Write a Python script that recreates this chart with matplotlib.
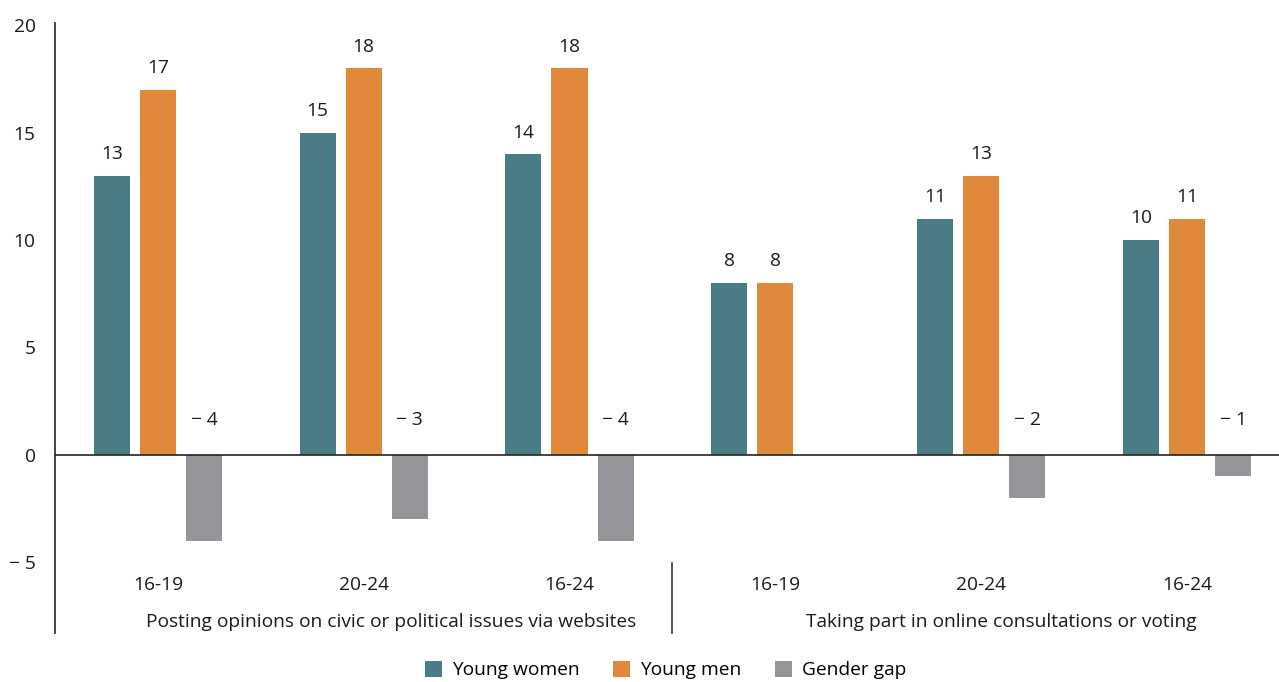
import matplotlib
matplotlib.use("Agg")
import matplotlib.pyplot as plt
import numpy as np
from matplotlib.patches import Patch

categories = ["16-19", "20-24", "16-24", "16-19", "20-24", "16-24"]
groups = ["Posting opinions on civic or political issues via websites",
          "Taking part in online consultations or voting"]
young_women = [13, 15, 14, 8, 11, 10]
young_men = [17, 18, 18, 8, 13, 11]
gender_gap = [-4, -3, -4, 0, -2, -1]
series_names = ["Young women", "Young men", "Gender gap"]
yticks = [-5, 0, 5, 10, 15, 20]
ytick_labels = ["\u2212 5", "0", "5", "10", "15", "20"]

colors = ["#4B7C86", "#E1893A", "#949599"]
plt.rcParams['font.family'] = ['Open Sans', 'DejaVu Sans']
FS = 13.8

W, H = 1279, 682
fig = plt.figure(figsize=(W / 100, H / 100), dpi=100)
x0, x1 = 55, 55 + 6 * 205.8
ytop, ybot = 23, 633
ax = fig.add_axes([x0 / W, (H - ybot) / H, (x1 - x0) / W, (ybot - ytop) / H])

x = np.arange(len(categories))
bw = 0.175
off = 0.224
series = [young_women, young_men, gender_gap]
for i, (vals, c) in enumerate(zip(series, colors)):
    pos = x + (i - 1) * off
    ax.bar(pos, vals, width=bw, color=c, zorder=2)
    for p, v in zip(pos, vals):
        if v == 0 and i == 2:
            continue
        if v > 0:
            ax.annotate(str(v), (p, v), xytext=(0, 15.5), textcoords="offset points",
                        ha="center", va="center", fontsize=FS, color="#1a1a1a")
        else:
            ax.annotate("\u2212 " + str(abs(v)), (p, 0), xytext=(0, 25), textcoords="offset points",
                        ha="center", va="center", fontsize=FS, color="#1a1a1a")

ax.set_xlim(-0.5, 5.5)
ax.set_ylim(-8.29, 20.1)
ax.axhline(0, color="#222222", lw=1.2, zorder=3)
for s in ["top", "right", "bottom"]:
    ax.spines[s].set_visible(False)
ax.spines["left"].set_color("#222222")
ax.spines["left"].set_linewidth(1.2)
ax.set_yticks(yticks)
ax.set_yticklabels(ytick_labels, fontsize=FS, color="#1a1a1a")
ax.tick_params(axis="y", length=0, pad=14)
ax.set_xticks([])

for xi, c in zip(x, categories):
    ax.text(xi, -6.05, c, ha="center", va="center", fontsize=FS, color="#1a1a1a")
ax.text(1.133, -7.77, groups[0], ha="center", va="center", fontsize=FS, color="#1a1a1a")
ax.text(4.097, -7.77, groups[1], ha="center", va="center", fontsize=FS, color="#1a1a1a")
ax.plot([2.5, 2.5], [-5.05, -8.29], color="#333333", lw=1.2, clip_on=False)

handles = [Patch(facecolor=c, edgecolor="none") for c in colors]
fig.legend(handles, series_names, loc="center", bbox_to_anchor=(0.5 + 26 / W, (H - 670) / H),
           ncol=3, frameon=False, fontsize=FS, handlelength=0.9, handleheight=0.9,
           columnspacing=1.75, handletextpad=0.5)

fig.savefig("out.png", dpi=100)
